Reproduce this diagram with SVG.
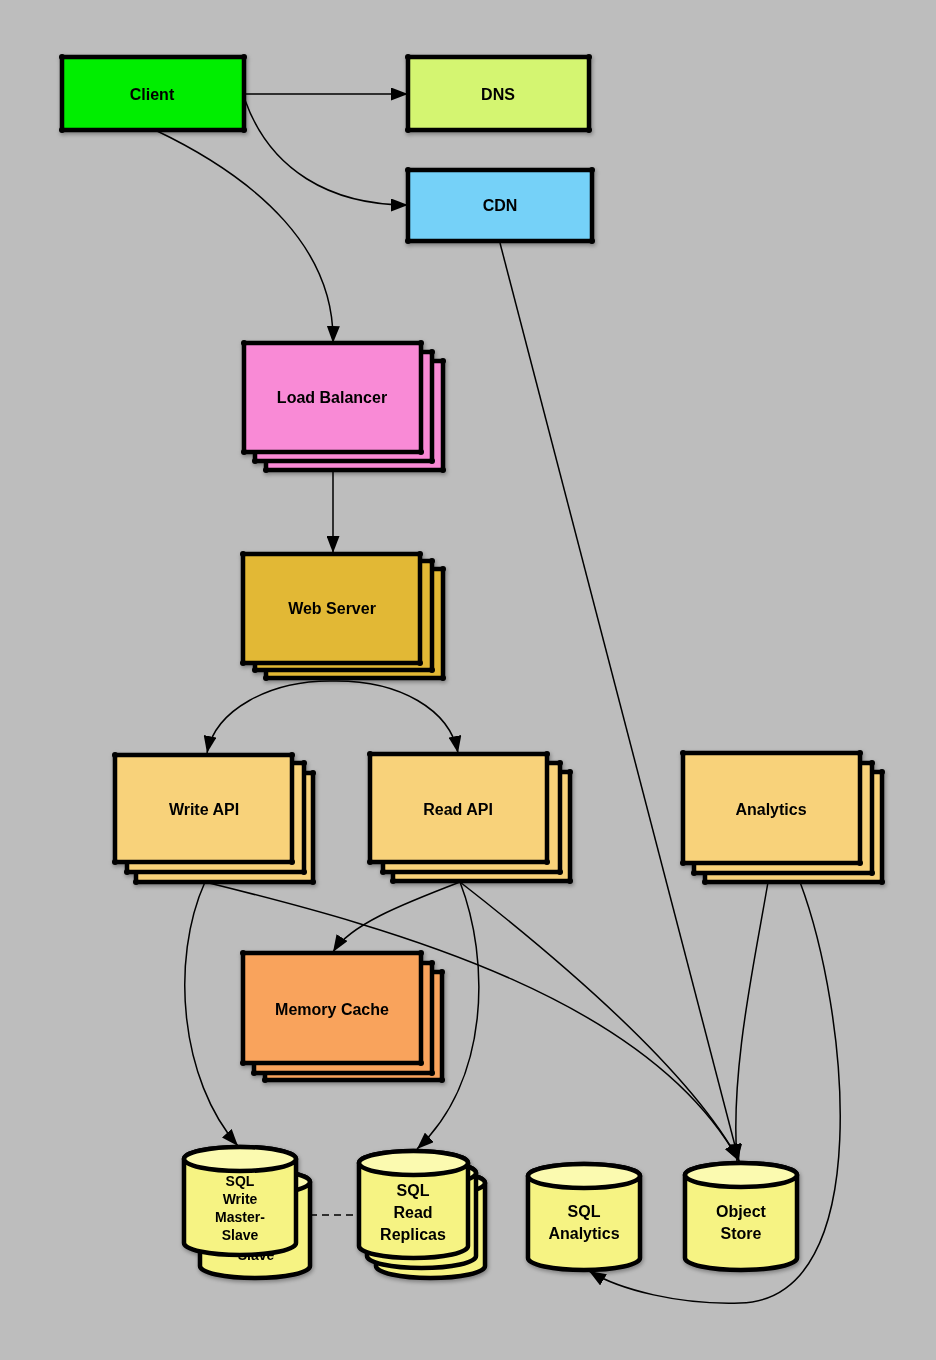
<svg xmlns="http://www.w3.org/2000/svg" width="936" height="1360" viewBox="0 0 936 1360">
<defs>
<style>
.box{stroke:#000;stroke-width:4.5;stroke-linejoin:round}
.dot{fill:#000}
.cyl{fill:#f6f383;stroke:#000;stroke-width:4.5;stroke-linejoin:round}
.cap{fill:#fbfab0;stroke:#000;stroke-width:4.5}
.lbl{font-family:"Liberation Sans",Arial,sans-serif;font-weight:bold;font-size:16px;fill:#000;text-anchor:middle;dominant-baseline:central}
.sm{font-size:14px}
.conn path{fill:none;stroke:#000;stroke-width:1.5}
.arr{marker-end:url(#ah)}
</style>
<marker id="ah" viewBox="0 0 17 13" refX="17" refY="6.5" markerWidth="17" markerHeight="13" orient="auto" markerUnits="userSpaceOnUse"><path d="M0,0 L17,6.5 L0,13 Z" fill="#000"/></marker>
<filter id="sh" x="-10%" y="-10%" width="130%" height="130%"><feDropShadow dx="1" dy="2" stdDeviation="2" flood-color="#000" flood-opacity="0.35"/></filter>
</defs>
<rect width="936" height="1360" fill="#bdbdbd"/>

<g class="conn">
<path class="arr" d="M244,94 L408,94"/>
<path class="arr" d="M245,100 C270,170 330,205 408,205"/>
<path class="arr" d="M155,130 C260,180 335,250 333,343"/>
<path class="arr" d="M333,471 L333,553"/>
<path class="arr" d="M333,681 C270,680 215,710 207,753"/>
<path class="arr" d="M333,681 C400,680 450,710 458,753"/>
<path class="arr" d="M500,243 L739,1161"/>
<path class="arr" d="M205,882 C400,930 650,1000 739,1161"/>
<path class="arr" d="M460,882 C400,905 350,925 333,952"/>
<path class="arr" d="M460,882 C560,960 690,1070 739,1161"/>
<path class="arr" d="M460,882 C490,960 490,1080 417,1149"/>
<path class="arr" d="M205,882 C170,960 180,1080 238,1146"/>
<path class="arr" d="M768,882 C755,960 730,1070 737,1161"/>
<path class="arr" d="M800,882 C848,1010 878,1300 740,1303 C680,1305 620,1290 589,1271"/>
<path d="M310,1215 L359,1215" stroke-dasharray="7,5"/>
</g>

<g id="client" filter="url(#sh)">
<rect class="box" x="62" y="57" width="182" height="73" fill="#00ee00"/>
<circle class="dot" cx="62" cy="57" r="3"/><circle class="dot" cx="244" cy="57" r="3"/><circle class="dot" cx="62" cy="130" r="3"/><circle class="dot" cx="244" cy="130" r="3"/>
<text class="lbl" x="152" y="94">Client</text>
</g>

<g id="dns" filter="url(#sh)">
<rect class="box" x="408" y="57" width="181" height="73" fill="#d4f571"/>
<circle class="dot" cx="408" cy="57" r="3"/><circle class="dot" cx="589" cy="57" r="3"/><circle class="dot" cx="408" cy="130" r="3"/><circle class="dot" cx="589" cy="130" r="3"/>
<text class="lbl" x="498" y="94">DNS</text>
</g>

<g id="cdn" filter="url(#sh)">
<rect class="box" x="408" y="170" width="184" height="71" fill="#74d1f8"/>
<circle class="dot" cx="408" cy="170" r="3"/><circle class="dot" cx="592" cy="170" r="3"/><circle class="dot" cx="408" cy="241" r="3"/><circle class="dot" cx="592" cy="241" r="3"/>
<text class="lbl" x="500" y="205">CDN</text>
</g>

<g id="load-balancer" filter="url(#sh)">
<rect class="box" x="266" y="361" width="177" height="109" fill="#f98ad6"/>
<circle class="dot" cx="266" cy="470" r="3"/><circle class="dot" cx="443" cy="361" r="3"/><circle class="dot" cx="443" cy="470" r="3"/>
<rect class="box" x="255" y="352" width="177" height="109" fill="#f98ad6"/>
<circle class="dot" cx="255" cy="461" r="3"/><circle class="dot" cx="432" cy="352" r="3"/><circle class="dot" cx="432" cy="461" r="3"/>
<rect class="box" x="244" y="343" width="177" height="109" fill="#f98ad6"/>
<circle class="dot" cx="244" cy="343" r="3"/><circle class="dot" cx="421" cy="343" r="3"/><circle class="dot" cx="244" cy="452" r="3"/><circle class="dot" cx="421" cy="452" r="3"/>
<text class="lbl" x="332" y="397">Load Balancer</text>
</g>

<g id="web-server" filter="url(#sh)">
<rect class="box" x="266" y="569" width="177" height="109" fill="#e2b834"/>
<circle class="dot" cx="266" cy="678" r="3"/><circle class="dot" cx="443" cy="569" r="3"/><circle class="dot" cx="443" cy="678" r="3"/>
<rect class="box" x="255" y="561" width="177" height="109" fill="#e2b834"/>
<circle class="dot" cx="255" cy="670" r="3"/><circle class="dot" cx="432" cy="561" r="3"/><circle class="dot" cx="432" cy="670" r="3"/>
<rect class="box" x="243" y="554" width="177" height="109" fill="#e2b834"/>
<circle class="dot" cx="243" cy="554" r="3"/><circle class="dot" cx="420" cy="554" r="3"/><circle class="dot" cx="243" cy="663" r="3"/><circle class="dot" cx="420" cy="663" r="3"/>
<text class="lbl" x="332" y="608">Web Server</text>
</g>

<g id="write-api" filter="url(#sh)">
<rect class="box" x="136" y="773" width="177" height="109" fill="#f8d27a"/>
<circle class="dot" cx="136" cy="882" r="3"/><circle class="dot" cx="313" cy="773" r="3"/><circle class="dot" cx="313" cy="882" r="3"/>
<rect class="box" x="127" y="763" width="177" height="109" fill="#f8d27a"/>
<circle class="dot" cx="127" cy="872" r="3"/><circle class="dot" cx="304" cy="763" r="3"/><circle class="dot" cx="304" cy="872" r="3"/>
<rect class="box" x="115" y="755" width="177" height="107" fill="#f8d27a"/>
<circle class="dot" cx="115" cy="755" r="3"/><circle class="dot" cx="292" cy="755" r="3"/><circle class="dot" cx="115" cy="862" r="3"/><circle class="dot" cx="292" cy="862" r="3"/>
<text class="lbl" x="204" y="809">Write API</text>
</g>

<g id="read-api" filter="url(#sh)">
<rect class="box" x="393" y="772" width="177" height="109" fill="#f8d27a"/>
<circle class="dot" cx="393" cy="881" r="3"/><circle class="dot" cx="570" cy="772" r="3"/><circle class="dot" cx="570" cy="881" r="3"/>
<rect class="box" x="383" y="763" width="177" height="109" fill="#f8d27a"/>
<circle class="dot" cx="383" cy="872" r="3"/><circle class="dot" cx="560" cy="763" r="3"/><circle class="dot" cx="560" cy="872" r="3"/>
<rect class="box" x="370" y="754" width="177" height="108" fill="#f8d27a"/>
<circle class="dot" cx="370" cy="754" r="3"/><circle class="dot" cx="547" cy="754" r="3"/><circle class="dot" cx="370" cy="862" r="3"/><circle class="dot" cx="547" cy="862" r="3"/>
<text class="lbl" x="458" y="809">Read API</text>
</g>

<g id="analytics" filter="url(#sh)">
<rect class="box" x="705" y="772" width="177" height="110" fill="#f8d27a"/>
<circle class="dot" cx="705" cy="882" r="3"/><circle class="dot" cx="882" cy="772" r="3"/><circle class="dot" cx="882" cy="882" r="3"/>
<rect class="box" x="694" y="763" width="178" height="110" fill="#f8d27a"/>
<circle class="dot" cx="694" cy="873" r="3"/><circle class="dot" cx="872" cy="763" r="3"/><circle class="dot" cx="872" cy="873" r="3"/>
<rect class="box" x="683" y="753" width="177" height="110" fill="#f8d27a"/>
<circle class="dot" cx="683" cy="753" r="3"/><circle class="dot" cx="860" cy="753" r="3"/><circle class="dot" cx="683" cy="863" r="3"/><circle class="dot" cx="860" cy="863" r="3"/>
<text class="lbl" x="771" y="809">Analytics</text>
</g>

<g id="memory-cache" filter="url(#sh)">
<rect class="box" x="265" y="972" width="177" height="108" fill="#f9a35c"/>
<circle class="dot" cx="265" cy="1080" r="3"/><circle class="dot" cx="442" cy="972" r="3"/><circle class="dot" cx="442" cy="1080" r="3"/>
<rect class="box" x="254" y="963" width="178" height="110" fill="#f9a35c"/>
<circle class="dot" cx="254" cy="1073" r="3"/><circle class="dot" cx="432" cy="963" r="3"/><circle class="dot" cx="432" cy="1073" r="3"/>
<rect class="box" x="243" y="953" width="178" height="110" fill="#f9a35c"/>
<circle class="dot" cx="243" cy="953" r="3"/><circle class="dot" cx="421" cy="953" r="3"/><circle class="dot" cx="243" cy="1063" r="3"/><circle class="dot" cx="421" cy="1063" r="3"/>
<text class="lbl" x="332" y="1009">Memory Cache</text>
</g>

<g id="sql-write" filter="url(#sh)">
<path class="cyl" d="M200,1182 L200,1266 A55,12 0 0 0 310,1266 L310,1182 A55,12 0 0 0 200,1182 Z"/>
<ellipse class="cap" cx="255" cy="1182" rx="55" ry="12"/>
<text class="lbl sm" x="256" y="1255">Slave</text>
<path class="cyl" d="M184,1159 L184,1243 A56,12 0 0 0 296,1243 L296,1159 A56,12 0 0 0 184,1159 Z"/>
<ellipse class="cap" cx="240" cy="1159" rx="56" ry="12"/>
<text class="lbl sm" x="240" y="1181">SQL</text>
<text class="lbl sm" x="240" y="1199">Write</text>
<text class="lbl sm" x="240" y="1217">Master-</text>
<text class="lbl sm" x="240" y="1235">Slave</text>
</g>

<g id="sql-read-replicas" filter="url(#sh)">
<path class="cyl" d="M376,1183 L376,1266 A54.5,12 0 0 0 485,1266 L485,1183 A54.5,12 0 0 0 376,1183 Z"/>
<ellipse class="cap" cx="430.5" cy="1183" rx="54.5" ry="12"/>
<path class="cyl" d="M367,1173 L367,1256 A54.5,12 0 0 0 476,1256 L476,1173 A54.5,12 0 0 0 367,1173 Z"/>
<ellipse class="cap" cx="421.5" cy="1173" rx="54.5" ry="12"/>
<path class="cyl" d="M359,1163 L359,1246 A54.5,12 0 0 0 468,1246 L468,1163 A54.5,12 0 0 0 359,1163 Z"/>
<ellipse class="cap" cx="413.5" cy="1163" rx="54.5" ry="12"/>
<text class="lbl" x="413" y="1190">SQL</text>
<text class="lbl" x="413" y="1212">Read</text>
<text class="lbl" x="413" y="1234">Replicas</text>
</g>

<g id="sql-analytics" filter="url(#sh)">
<path class="cyl" d="M528,1176 L528,1258 A56,12 0 0 0 640,1258 L640,1176 A56,12 0 0 0 528,1176 Z"/>
<ellipse class="cap" cx="584" cy="1176" rx="56" ry="12"/>
<text class="lbl" x="584" y="1211">SQL</text>
<text class="lbl" x="584" y="1233">Analytics</text>
</g>

<g id="object-store" filter="url(#sh)">
<path class="cyl" d="M685,1175 L685,1258 A56,12 0 0 0 797,1258 L797,1175 A56,12 0 0 0 685,1175 Z"/>
<ellipse class="cap" cx="741" cy="1175" rx="56" ry="12"/>
<text class="lbl" x="741" y="1211">Object</text>
<text class="lbl" x="741" y="1233">Store</text>
</g>
</svg>
